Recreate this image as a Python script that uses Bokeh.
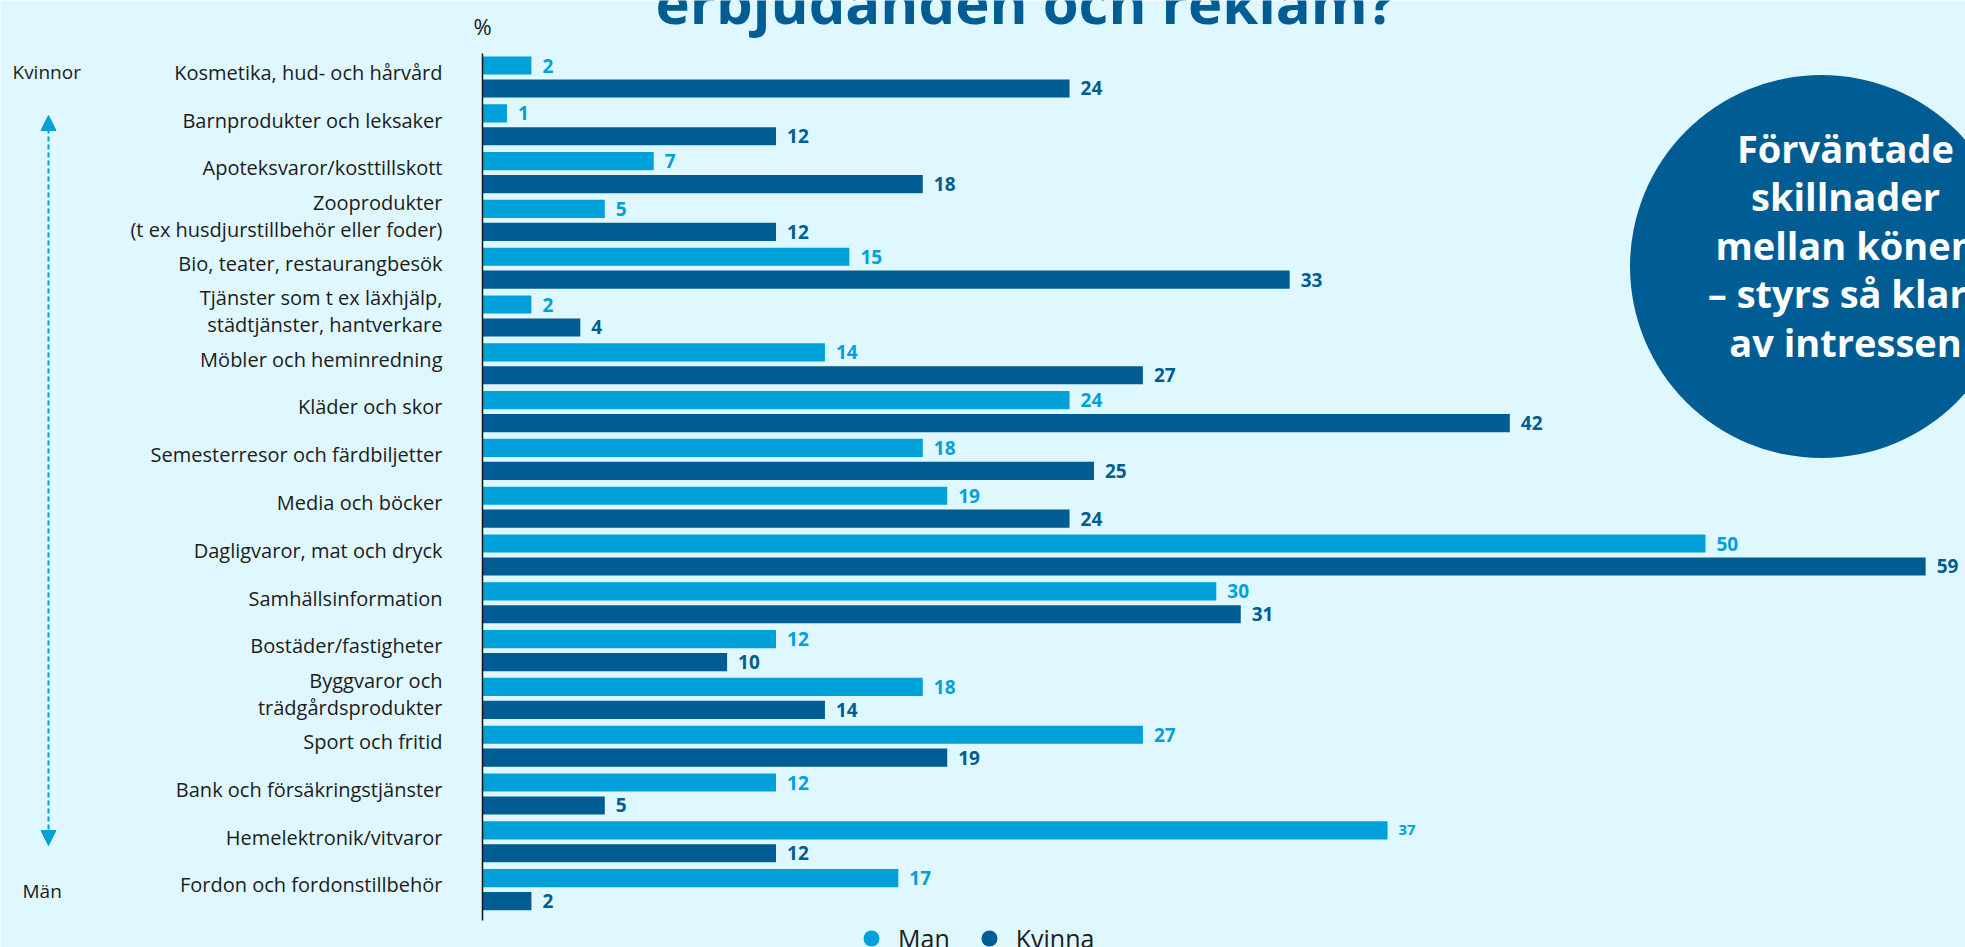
from bokeh.plotting import figure
from bokeh.models import (ColumnDataSource, Range1d, Label, Arrow, FixedTicker,
                          NormalHead, Legend, LegendItem)
from bokeh.transform import dodge
from bokeh.core.properties import value
from bokeh.embed import file_html
from bokeh.resources import INLINE

# ---------------- data ----------------
categories = [
    "Kosmetika, hud- och hårvård",
    "Barnprodukter och leksaker",
    "Apoteksvaror/kosttillskott",
    "Zooprodukter\n(t ex husdjurstillbehör eller foder)",
    "Bio, teater, restaurangbesök",
    "Tjänster som t ex läxhjälp,\nstädtjänster, hantverkare",
    "Möbler och heminredning",
    "Kläder och skor",
    "Semesterresor och färdbiljetter",
    "Media och böcker",
    "Dagligvaror, mat och dryck",
    "Samhällsinformation",
    "Bostäder/fastigheter",
    "Byggvaror och\nträdgårdsprodukter",
    "Sport och fritid",
    "Bank och försäkringstjänster",
    "Hemelektronik/vitvaror",
    "Fordon och fordonstillbehör",
]
man = [2, 1, 7, 5, 15, 2, 14, 24, 18, 19, 50, 30, 12, 18, 27, 12, 37, 17]
kvinna = [24, 12, 18, 12, 33, 4, 27, 42, 25, 24, 59, 31, 10, 14, 19, 5, 12, 2]
series_names = ["Man", "Kvinna"]
title_text = "erbjudanden och reklam?"
unit_text = "%"
top_label = "Kvinnor"
bottom_label = "Män"
bubble_lines = ["Förväntade", "skillnader", "mellan könen", "– styrs så klart", "av intressen"]

# ---------------- style / layout ----------------
BG = "#dff8ff"
MAN_C = "#00a1d9"
KV_C = "#005d93"
TXT = "#1c1c1c"
FONT = "Open Sans"

W, H = 1965, 947
AXIS_PX = 482          # page x of value 0
PX_PER_UNIT = 24.46    # px per percent
TOP_CENTER = 76.5      # page y of first group centre
PITCH = 47.8           # px between groups
N = len(categories)
LABEL_LIFT = 0.1       # category labels sit slightly above group centre


def sx(page_x):
    return (page_x - AXIS_PX) / PX_PER_UNIT


def sy(page_y):
    return (N - 1) + (TOP_CENTER - page_y) / PITCH


ypos = [N - 1 - i for i in range(N)]
tick_pos = [round(y + LABEL_LIFT, 3) for y in ypos]

src = ColumnDataSource(dict(
    y=ypos,
    cat=categories,
    man=man,
    kvinna=kvinna,
    man_lbl=[str(v) for v in man],
    kv_lbl=[str(v) for v in kvinna],
    man_size=["15px" if c.startswith("Hemelektronik") else "19px" for c in categories],
))

p = figure(width=W, height=H, output_backend="svg", toolbar_location=None,
           x_range=Range1d(sx(0), sx(W)), y_range=Range1d(sy(H), sy(0)),
           x_axis_location=None, title=None,
           min_border_left=0, min_border_top=0, min_border_bottom=0, min_border_right=0)
p.background_fill_color = BG
p.border_fill_color = BG
p.outline_line_color = None
p.grid.visible = False

yax = p.yaxis[0]
yax.fixed_location = 0
yax.bounds = (sy(920), sy(53))
yax.ticker = FixedTicker(ticks=tick_pos, minor_ticks=[])
yax.major_label_overrides = {t: c for t, c in zip(tick_pos, categories)}
yax.axis_line_color = "#111111"
yax.axis_line_width = 1.5
yax.major_tick_line_color = None
yax.minor_tick_line_color = None
yax.major_tick_in = 0
yax.major_tick_out = 0
yax.major_label_standoff = 40
yax.major_label_text_font = FONT
yax.major_label_text_font_size = "20px"
yax.major_label_text_line_height = 1.0
yax.major_label_text_color = TXT

OFF = 0.24
BAR_H = 0.38
p.hbar(y=dodge("y", OFF), right="man", left=0, height=BAR_H,
       source=src, fill_color=MAN_C, line_color=None)
p.hbar(y=dodge("y", -OFF), right="kvinna", left=0, height=BAR_H,
       source=src, fill_color=KV_C, line_color=None)

p.text(x="man", y=dodge("y", OFF), text="man_lbl", source=src,
       x_offset=11, text_baseline="middle", text_align="left",
       text_font=value(FONT), text_font_style="bold", text_font_size="man_size",
       text_color=MAN_C)
p.text(x="kvinna", y=dodge("y", -OFF), text="kv_lbl", source=src,
       x_offset=11, text_baseline="middle", text_align="left",
       text_font=value(FONT), text_font_style="bold", text_font_size="19px",
       text_color=KV_C)

# bubble
p.scatter(x=[sx(1821)], y=[sy(266)], size=383, marker="circle",
          fill_color=KV_C, line_color=None)
p.text(x=[sx(1845)] * len(bubble_lines),
       y=[sy(147 + 48.5 * i) for i in range(len(bubble_lines))],
       text=bubble_lines, text_align="center", text_baseline="middle",
       text_font=value(FONT), text_font_style="bold", text_font_size="38px",
       text_color="white")

# title (clipped at the top edge, as in the source page)
p.add_layout(Label(x=sx(1025), y=sy(1), text=title_text, text_align="center",
                   text_baseline="alphabetic", text_font=FONT, text_font_style="bold",
                   text_font_size="58px", text_color=KV_C))
p.add_layout(Label(x=0, y=sy(25), text=unit_text, text_align="center",
                   text_baseline="middle", text_font=FONT, text_font_size="22px",
                   text_color=TXT))
p.add_layout(Label(x=sx(12), y=sy(71), text=top_label, text_align="left",
                   text_baseline="middle", text_font=FONT, text_font_size="19px",
                   text_color=TXT))
p.add_layout(Label(x=sx(22), y=sy(890), text=bottom_label, text_align="left",
                   text_baseline="middle", text_font=FONT, text_font_size="19px",
                   text_color=TXT))

p.add_layout(Arrow(x_start=sx(48), y_start=sy(845), x_end=sx(48), y_end=sy(115),
                   start=NormalHead(size=15, fill_color=MAN_C, line_color=MAN_C),
                   end=NormalHead(size=15, fill_color=MAN_C, line_color=MAN_C),
                   line_color=MAN_C, line_width=2, line_dash="5 3"))

# legend (proxy markers lie outside the visible range)
r_man = p.scatter(x=[sx(-500)], y=[sy(-500)], marker="circle", size=16,
                  fill_color=MAN_C, line_color=None)
r_kv = p.scatter(x=[sx(-500)], y=[sy(-500)], marker="circle", size=16,
                 fill_color=KV_C, line_color=None)
legend = Legend(items=[LegendItem(label=series_names[0], renderers=[r_man]),
                       LegendItem(label=series_names[1], renderers=[r_kv])],
                orientation="horizontal", location=(851, -11),
                glyph_width=40, glyph_height=40, label_standoff=7, spacing=19,
                padding=0, margin=0, background_fill_alpha=0, border_line_alpha=0,
                label_text_font=FONT, label_text_font_size="25px", label_text_color=TXT)
p.add_layout(legend)

open("out.html", "w").write(file_html(p, INLINE))
